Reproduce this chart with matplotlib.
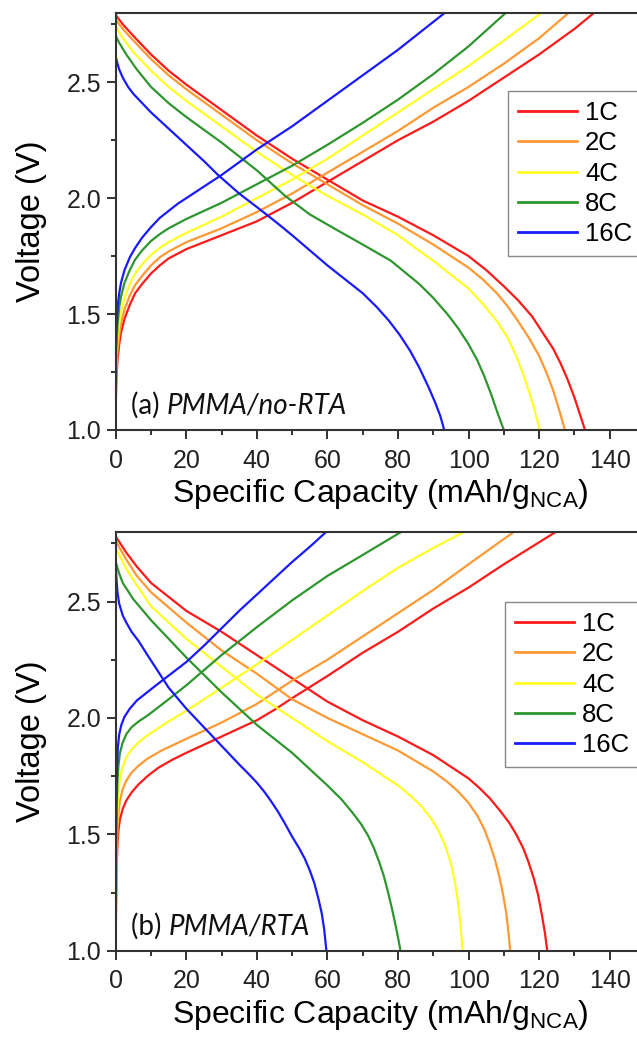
import matplotlib.pyplot as plt
import numpy as np

plt.rcParams['font.family'] = ['Liberation Sans', 'DejaVu Sans']
plt.rcParams['mathtext.default'] = 'regular'

rates = ['1C', '2C', '4C', '8C', '16C']
colors = ['#ff1a1a', '#ff9933', '#ffff26', '#2e962e', '#1a1aff']

# panel (a) PMMA/no-RTA : discharge curves (capacity, voltage)
a_dis_x = [
    [0, 2, 5, 10, 15, 20, 30, 40, 50, 60, 70, 80, 90, 100, 105, 110, 114, 118, 121, 124, 126, 128, 130, 131.5, 133],
    [0, 2, 5, 10, 15, 20, 30, 40, 50, 60, 70, 80, 90, 100, 104, 108, 111, 114, 117, 120, 122, 124, 125.8, 127.3],
    [0, 2, 5, 10, 15, 20, 30, 40, 50, 60, 70, 80, 90, 95, 100, 104, 108, 111, 113.5, 115.5, 117.5, 119, 120.2],
    [0, 1, 3, 6, 10, 15, 20, 30, 40, 48, 55, 63, 70, 78, 82, 86, 90, 94, 97, 100, 102.5, 104.5, 106.5, 108.3, 110],
    [0, 0.5, 1, 2, 3.5, 5, 7.5, 10, 15, 20, 25, 29, 35, 41, 46, 50, 55, 60, 65, 70, 74, 77.5, 80.5, 83.5, 86, 88.5, 90.5, 92, 93.1],
]
a_dis_v = [
    [2.79, 2.75, 2.70, 2.62, 2.55, 2.49, 2.38, 2.27, 2.17, 2.08, 1.99, 1.92, 1.84, 1.75, 1.69, 1.62, 1.56, 1.49, 1.42, 1.35, 1.29, 1.22, 1.14, 1.07, 1.0],
    [2.77, 2.73, 2.68, 2.60, 2.53, 2.47, 2.36, 2.25, 2.15, 2.06, 1.97, 1.89, 1.80, 1.70, 1.65, 1.59, 1.535, 1.47, 1.40, 1.32, 1.25, 1.17, 1.08, 1.0],
    [2.74, 2.69, 2.63, 2.55, 2.48, 2.42, 2.31, 2.20, 2.10, 2.01, 1.93, 1.84, 1.73, 1.67, 1.61, 1.545, 1.47, 1.40, 1.32, 1.24, 1.15, 1.07, 1.0],
    [2.70, 2.67, 2.62, 2.555, 2.48, 2.41, 2.35, 2.24, 2.12, 2.01, 1.93, 1.86, 1.80, 1.73, 1.68, 1.63, 1.57, 1.50, 1.44, 1.37, 1.30, 1.23, 1.15, 1.07, 1.0],
    [2.61, 2.58, 2.555, 2.52, 2.48, 2.45, 2.41, 2.37, 2.30, 2.23, 2.16, 2.10, 2.02, 1.95, 1.89, 1.84, 1.775, 1.71, 1.65, 1.59, 1.53, 1.47, 1.41, 1.34, 1.27, 1.19, 1.12, 1.06, 1.0],
]
# panel (a) charge curves
a_chg_x = [
    [0, 0.2, 0.5, 1, 1.5, 2.5, 4, 5.5, 7.5, 10, 12.5, 15, 20, 25, 30, 40, 50, 60, 70, 80, 90, 100, 110, 120, 130, 135.6],
    [0, 0.2, 0.5, 1, 1.5, 2.5, 4, 5.5, 7.5, 10, 12.5, 15, 20, 25, 30, 40, 50, 60, 70, 80, 90, 100, 110, 120, 128.4],
    [0, 0.2, 0.5, 1, 1.5, 2.5, 4, 5.5, 7.5, 10, 12.5, 15, 20, 25, 30, 40, 50, 60, 70, 80, 90, 100, 110, 120.7],
    [0, 0.2, 0.5, 1, 1.5, 2.5, 4, 5.5, 7.5, 10, 12.5, 15, 20, 25, 30, 40, 50, 60, 70, 80, 90, 100, 110.6],
    [0, 0.1, 0.3, 0.6, 1, 1.5, 2.5, 4, 5.5, 7.5, 10, 12.5, 15, 17.5, 20, 25, 30, 40, 50, 60, 70, 80, 93.3],
]
a_chg_v = [
    [1.10, 1.22, 1.30, 1.37, 1.42, 1.48, 1.54, 1.59, 1.63, 1.675, 1.71, 1.74, 1.78, 1.81, 1.84, 1.90, 1.98, 2.07, 2.16, 2.25, 2.33, 2.42, 2.52, 2.62, 2.73, 2.80],
    [1.15, 1.26, 1.34, 1.41, 1.46, 1.52, 1.58, 1.625, 1.665, 1.71, 1.745, 1.77, 1.81, 1.84, 1.87, 1.94, 2.02, 2.11, 2.20, 2.29, 2.39, 2.48, 2.58, 2.69, 2.80],
    [1.20, 1.31, 1.39, 1.46, 1.51, 1.57, 1.63, 1.675, 1.715, 1.755, 1.785, 1.81, 1.85, 1.885, 1.92, 2.00, 2.08, 2.17, 2.27, 2.37, 2.47, 2.57, 2.68, 2.80],
    [1.20, 1.36, 1.45, 1.53, 1.575, 1.635, 1.69, 1.735, 1.775, 1.815, 1.845, 1.87, 1.91, 1.945, 1.98, 2.06, 2.14, 2.23, 2.325, 2.425, 2.535, 2.655, 2.80],
    [1.30, 1.40, 1.47, 1.54, 1.59, 1.635, 1.69, 1.745, 1.785, 1.83, 1.875, 1.915, 1.945, 1.975, 2.00, 2.05, 2.10, 2.21, 2.31, 2.42, 2.53, 2.64, 2.80],
]

# panel (b) PMMA/RTA : discharge curves
b_dis_x = [
    [0, 3, 6, 10, 20, 30, 40, 50, 60, 70, 80, 90, 100, 103, 106, 109, 111.5, 113.5, 115.5, 117, 118.5, 119.7, 120.7, 121.6, 122.3],
    [0, 3, 6, 10, 20, 30, 40, 50, 60, 70, 80, 90, 94, 97, 100, 102.5, 104.5, 106, 107.5, 108.7, 109.8, 110.7, 111.3, 111.8],
    [0, 3, 6, 10, 20, 30, 40, 50, 60, 70, 80, 84, 87, 89.5, 91.5, 93, 94.3, 95.4, 96.3, 97, 97.6, 98, 98.3],
    [0, 1, 2, 5, 10, 20, 30, 40, 50, 60, 64, 67, 69.5, 71.5, 73.2, 74.7, 76, 77.2, 78.3, 79.3, 80.1, 80.7],
    [0, 0.2, 0.5, 1, 2, 3, 4.5, 6.5, 9, 12, 15, 20, 25, 30, 35, 37.5, 40, 42, 44, 46, 48, 50, 52, 53.6, 55, 56.3, 57.5, 58.4, 59.1, 59.7],
]
b_dis_v = [
    [2.78, 2.71, 2.65, 2.58, 2.46, 2.37, 2.27, 2.17, 2.07, 1.99, 1.92, 1.84, 1.74, 1.70, 1.655, 1.60, 1.55, 1.50, 1.44, 1.38, 1.31, 1.24, 1.16, 1.08, 1.0],
    [2.76, 2.68, 2.61, 2.54, 2.41, 2.29, 2.19, 2.08, 2.00, 1.93, 1.86, 1.77, 1.725, 1.685, 1.635, 1.58, 1.52, 1.46, 1.39, 1.32, 1.24, 1.16, 1.08, 1.0],
    [2.73, 2.64, 2.57, 2.48, 2.34, 2.22, 2.10, 2.00, 1.90, 1.81, 1.71, 1.66, 1.615, 1.565, 1.515, 1.465, 1.41, 1.35, 1.28, 1.21, 1.13, 1.06, 1.0],
    [2.67, 2.62, 2.58, 2.51, 2.42, 2.26, 2.11, 1.97, 1.85, 1.71, 1.65, 1.595, 1.545, 1.495, 1.44, 1.38, 1.32, 1.25, 1.18, 1.11, 1.05, 1.0],
    [2.66, 2.60, 2.54, 2.49, 2.44, 2.41, 2.37, 2.33, 2.27, 2.20, 2.13, 2.04, 1.96, 1.88, 1.80, 1.762, 1.722, 1.685, 1.643, 1.597, 1.545, 1.49, 1.44, 1.395, 1.345, 1.29, 1.22, 1.16, 1.09, 1.0],
]
# panel (b) charge curves
b_chg_x = [
    [0, 0.1, 0.25, 0.5, 0.8, 1.2, 2, 3, 4.5, 6.5, 9, 12, 16, 20, 25, 30, 35, 40, 45, 50, 60, 70, 80, 90, 100, 110, 124.8],
    [0, 0.1, 0.25, 0.5, 0.8, 1.2, 2, 3, 4.5, 6.5, 9, 13, 20, 30, 40, 50, 60, 70, 80, 90, 100, 112.9],
    [0, 0.1, 0.25, 0.5, 0.8, 1.2, 2, 3, 4.5, 6.5, 9, 12, 15, 20, 30, 40, 50, 60, 70, 80, 90, 98.8],
    [0, 0.1, 0.25, 0.5, 0.8, 1.2, 2, 3, 4.5, 6.5, 9, 12, 15, 20, 25, 30, 40, 50, 60, 70, 81],
    [0, 0.05, 0.1, 0.2, 0.35, 0.6, 1, 1.6, 2.5, 4, 6, 8.5, 11, 14, 17, 20, 25, 30, 35, 40, 45, 50, 55, 59.7],
]
b_chg_v = [
    [1.0, 1.20, 1.35, 1.46, 1.52, 1.565, 1.61, 1.645, 1.68, 1.715, 1.75, 1.785, 1.82, 1.85, 1.885, 1.92, 1.955, 1.99, 2.035, 2.085, 2.18, 2.28, 2.37, 2.47, 2.56, 2.66, 2.80],
    [1.0, 1.25, 1.40, 1.52, 1.59, 1.645, 1.695, 1.73, 1.765, 1.795, 1.825, 1.86, 1.91, 1.98, 2.06, 2.16, 2.25, 2.35, 2.45, 2.55, 2.66, 2.80],
    [1.0, 1.30, 1.47, 1.60, 1.68, 1.74, 1.79, 1.83, 1.865, 1.895, 1.925, 1.955, 1.985, 2.03, 2.13, 2.23, 2.335, 2.44, 2.545, 2.645, 2.73, 2.80],
    [1.0, 1.40, 1.60, 1.73, 1.80, 1.85, 1.895, 1.93, 1.96, 1.985, 2.01, 2.045, 2.08, 2.14, 2.205, 2.27, 2.39, 2.505, 2.61, 2.70, 2.80],
    [1.0, 1.30, 1.50, 1.66, 1.78, 1.87, 1.93, 1.97, 2.005, 2.04, 2.075, 2.105, 2.135, 2.17, 2.205, 2.24, 2.31, 2.385, 2.46, 2.53, 2.60, 2.67, 2.735, 2.80],
]

panels = [
    ('(a) ', 'PMMA/no-RTA', a_dis_x, a_dis_v, a_chg_x, a_chg_v),
    ('(b) ', 'PMMA/RTA', b_dis_x, b_dis_v, b_chg_x, b_chg_v),
]

fig = plt.figure(figsize=(6.37, 10.44), dpi=100)
W, H = 637, 1044
# axes boxes in pixels: left, top, right, bottom (right spine lies past the crop)
boxes = [(115.7, 12.7, 645, 430), (115.7, 531.7, 645, 950.7)]
legend_tl = [(508, 91), (505, 602)]

for i, (tag, name, dx, dv, cx, cv) in enumerate(panels):
    l, t, r, b = boxes[i]
    ax = fig.add_axes([l / W, 1 - b / H, (r - l) / W, (b - t) / H])
    for k in range(len(rates)):
        ax.plot(dx[k], dv[k], color=colors[k], lw=1.6, label=rates[k])
        ax.plot(cx[k], cv[k], color=colors[k], lw=1.6)
    ax.set_xlim(0, 150)
    ax.set_ylim(1.0, 2.8)
    ax.set_xticks(np.arange(0, 141, 20))
    ax.set_xticks(np.arange(10, 151, 20), minor=True)
    ax.set_yticks([1.0, 1.5, 2.0, 2.5])
    ax.set_yticks([1.25, 1.75, 2.25, 2.75], minor=True)
    ax.tick_params(which='major', direction='out', length=6.5, width=1.3,
                   labelsize=18, colors='#222222')
    ax.tick_params(axis='x', which='major', pad=7)
    ax.tick_params(axis='y', which='major', pad=4)
    ax.tick_params(which='minor', direction='out', length=3.5, width=1.3,
                   colors='#222222')
    for s in ax.spines.values():
        s.set_color('#333333')
        s.set_linewidth(1.5)
    ax.set_xlabel('Specific Capacity (mAh/g$_{NCA}$)', fontsize=23, labelpad=3)
    ax.set_ylabel('Voltage (V)', fontsize=23.5)
    ax.yaxis.set_label_coords(-0.130, 0.5)
    tt = ax.text(4.4, 1.07, tag, fontsize=20, family=['Lato', 'DejaVu Sans'],
                 va='baseline', ha='left', color='#111111')
    ax.annotate(name, xy=(1, 0), xycoords=tt, fontsize=20,
                family=['Lato', 'DejaVu Sans'], style='italic',
                va='bottom', ha='left', color='#111111')
    lx, ly = legend_tl[i]
    leg = ax.legend(loc='upper left', bbox_to_anchor=(lx / W, 1 - ly / H),
                    bbox_transform=fig.transFigure, fontsize=18.5,
                    frameon=True, fancybox=False, framealpha=1,
                    edgecolor='#888888', handlelength=2.3, handletextpad=0.3,
                    labelspacing=0.24, borderpad=0.4, borderaxespad=0)
    leg.get_frame().set_linewidth(1.0)
    for ln in leg.get_lines():
        ln.set_linewidth(2.0)

fig.savefig('out.png', dpi=100)
